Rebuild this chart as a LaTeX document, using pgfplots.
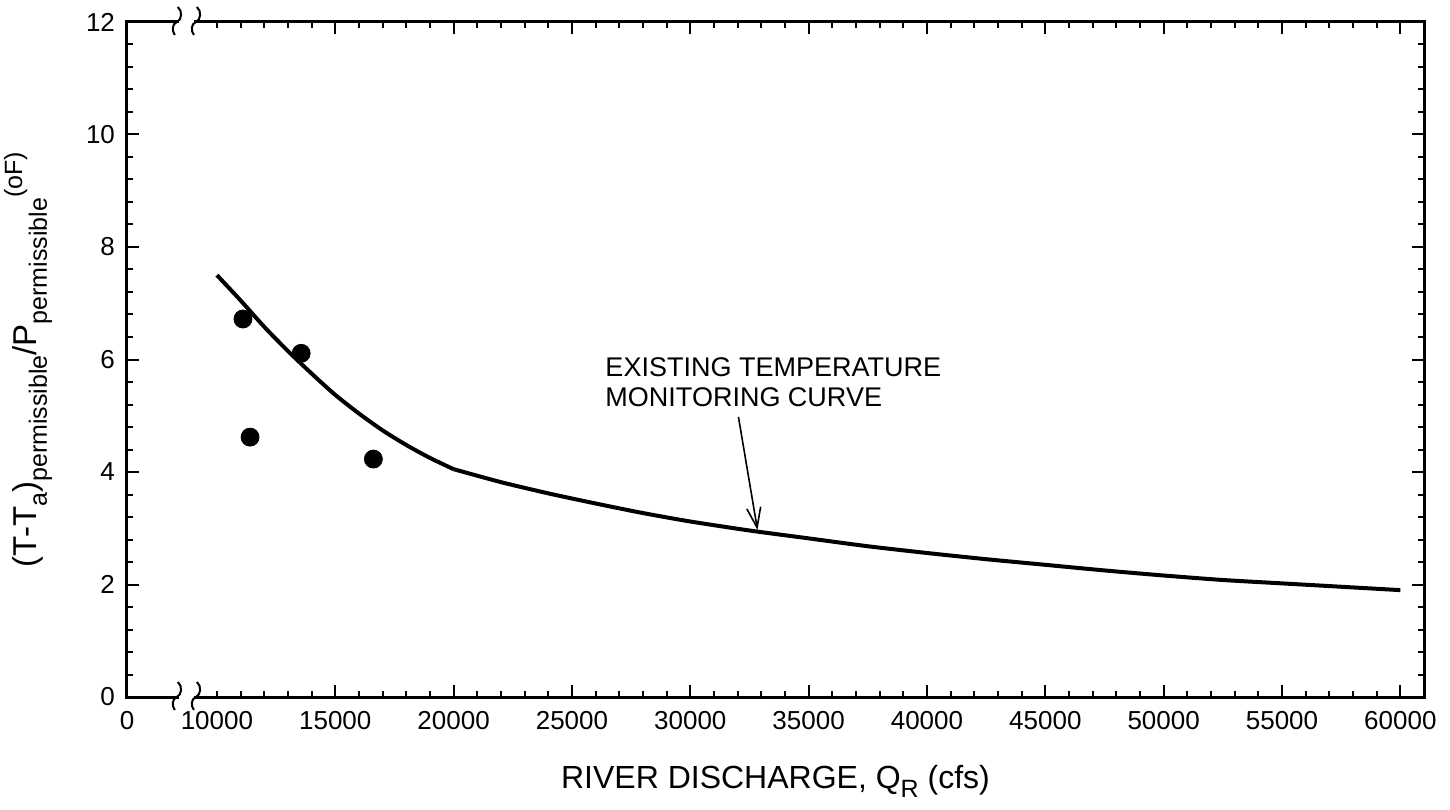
\documentclass[border=0pt]{standalone}
\usepackage{fontspec}
\setmainfont{Liberation Sans}
\usepackage{pgfplots}
\pgfplotsset{compat=1.18}
\usetikzlibrary{arrows.meta}

\newcommand\lo[1]{\raisebox{-0.3em}{\fontsize{12.5}{12.5}\selectfont #1}}
\newcommand\hi[1]{\raisebox{0.45em}{\fontsize{12.5}{12.5}\selectfont #1}}
% small axis-break squiggle
\newcommand\brk[2]{%
  \draw[line width=1pt] ([xshift=0.5pt,yshift=7.5pt]axis cs:#1,#2)
    .. controls +(2.5pt,-2pt) and +(2.5pt,1pt) .. ([yshift=0pt]axis cs:#1,#2)
    .. controls +(-2.5pt,-1pt) and +(-1.5pt,2pt) .. ([xshift=-1pt,yshift=-6.5pt]axis cs:#1,#2);}

\begin{document}
\begin{tikzpicture}
\begin{axis}[
    scale only axis, width=648.5pt, height=337.5pt,
    xmin=6200, xmax=61000, ymin=0, ymax=12,
    xtick={15000,20000,...,60000},
    extra x ticks={6200,10000}, extra x tick labels={0,10000},
    extra x tick style={major tick length=3pt},
    minor xtick={11000,12000,...,60000},
    ytick={0,2,...,12}, minor y tick num=4,
    scaled x ticks=false,
    /pgf/number format/.cd, 1000 sep={}, fixed, assume math mode=true,
    /pgfplots/.cd,
    axis line style={line width=1.5pt},
    every tick/.style={black, line width=1pt},
    major tick length=6pt, minor tick length=3pt,
    tick label style={font=\fontsize{13}{15}\selectfont},
    xticklabel style={yshift=-3.5pt},
    yticklabel style={xshift=-2.5pt},
    every axis x label/.style={at={(axis description cs:0.5,0)}, anchor=base,
      yshift=-45.5pt, inner sep=0pt, font=\fontsize{16}{19}\selectfont},
    every axis y label/.style={at={(axis description cs:-0.0694,0.5)}, rotate=90,
      anchor=base, inner sep=0pt, font=\fontsize{16.5}{19}\selectfont},
    xlabel={RIVER DISCHARGE, Q\lo{R} (cfs)},
    ylabel={(T-T\lo{a})\lo{permissible}/P\lo{permissible}\hi{(oF)}},
    clip=false,
  ]
  \coordinate (sw) at (rel axis cs:0,0);

  % existing temperature monitoring curve (steep part, then flatter part)
  \addplot[black, line width=2pt, smooth, tension=0.4, mark=none] coordinates {
    (10000,7.50) (11000,7.05) (12000,6.58) (13000,6.15) (14000,5.75)
    (15000,5.37) (16000,5.04) (17000,4.74) (18000,4.48) (19000,4.25)
    (20000,4.05)
  };
  \addplot[black, line width=2pt, smooth, tension=0.4, mark=none] coordinates {
    (20000,4.05) (22000,3.82) (24000,3.62) (26000,3.44) (28000,3.27)
    (30000,3.12) (32500,2.96) (35000,2.82) (37500,2.68) (40000,2.56)
    (42500,2.45) (45000,2.35) (47500,2.25) (50000,2.16) (52500,2.08)
    (55000,2.02) (57500,1.96) (60000,1.90)
  };

  % measured points
  \addplot[only marks, mark=*, mark size=4.5pt, black] coordinates {
    (11100,6.72) (13560,6.11) (11400,4.62) (16610,4.23)
  };

  \node[anchor=west, align=left, inner sep=0pt,
        font=\fontsize{13.5}{15}\selectfont] at (axis cs:26400,5.6)
        {EXISTING TEMPERATURE\\MONITORING CURVE};
  \draw[line width=0.8pt, -{Straight Barb[length=10pt,width=7pt]}]
    (axis cs:32034,4.98) -- (axis cs:32839,2.97);

  % axis breaks
  \fill[white] ([yshift=-1.5pt]axis cs:8400,0) rectangle ([yshift=1.5pt]axis cs:9050,0);
  \fill[white] ([yshift=-1.5pt]axis cs:8400,12) rectangle ([yshift=1.5pt]axis cs:9050,12);
  \brk{8305}{0}\brk{9110}{0}
  \brk{8305}{12}\brk{9110}{12}
\end{axis}
\path (sw) ++(-63.5pt,-56pt) rectangle ++(725pt,404.5pt);
\end{tikzpicture}
\end{document}
